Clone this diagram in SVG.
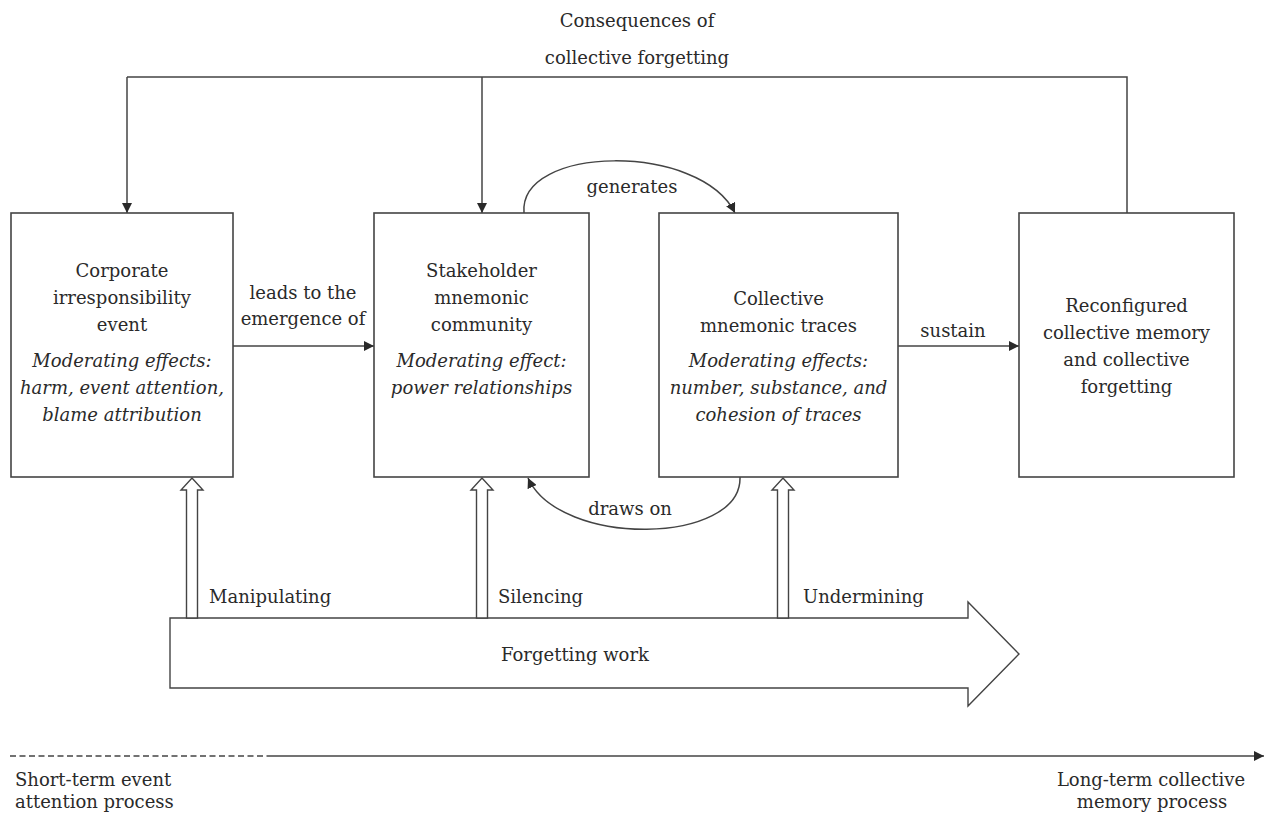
<svg xmlns="http://www.w3.org/2000/svg" width="1264" height="814" viewBox="0 0 1264 814">
<style>
  text { font-family: "DejaVu Serif", "Liberation Serif", serif; font-size: 18px; fill: #2a2a2a; }
  .c { text-anchor: middle; }
  .i { font-style: italic; }
  .box { fill: #fff; stroke: #444; stroke-width: 1.6; }
  .ln { fill: none; stroke: #444; stroke-width: 1.5; }
  .hol { fill: #fff; stroke: #444; stroke-width: 1.4; stroke-linejoin: miter; }
</style>
<defs>
  <marker id="ah" viewBox="0 0 10 10" refX="10" refY="5" markerWidth="10" markerHeight="10" markerUnits="userSpaceOnUse" orient="auto">
    <path d="M0,0 L10,5 L0,10 Z" fill="#2a2a2a"/>
  </marker>
</defs>
<rect width="1264" height="814" fill="#fff"/>

<g id="title">
  <text class="c" x="637" y="27">Consequences of</text>
  <text class="c" x="637" y="64">collective forgetting</text>
</g>

<g id="connectors">
  <path class="ln" d="M127,77 H1127 V213"/>
  <path class="ln" d="M127,77 V213" marker-end="url(#ah)"/>
  <path class="ln" d="M482,77 V213" marker-end="url(#ah)"/>
  <path class="ln" d="M233,346 H374" marker-end="url(#ah)"/>
  <path class="ln" d="M898,346 H1019" marker-end="url(#ah)"/>
  <path class="ln" d="M524,213 C518,145 700,142 735,213" marker-end="url(#ah)"/>
  <path class="ln" d="M740,477 C742,545 560,548 528,478" marker-end="url(#ah)"/>
  <path class="ln" d="M10,756 H267" stroke-dasharray="6 3.5"/>
  <path class="ln" d="M267,756 H1264" marker-end="url(#ah)"/>
</g>

<g id="labels">
  <text class="c" x="303" y="299">leads to the</text>
  <text class="c" x="303" y="325">emergence of</text>
  <text class="c" x="953" y="337">sustain</text>
  <text class="c" x="632" y="193">generates</text>
  <text class="c" x="630" y="515">draws on</text>
</g>

<g id="node-corporate">
  <rect class="box" x="11" y="213" width="222" height="264"/>
  <text class="c" x="122" y="277">Corporate</text>
  <text class="c" x="122" y="304">irresponsibility</text>
  <text class="c" x="122" y="331">event</text>
  <text class="c i" x="122" y="367">Moderating effects:</text>
  <text class="c i" x="122" y="394">harm, event attention,</text>
  <text class="c i" x="122" y="421">blame attribution</text>
</g>

<g id="node-stakeholder">
  <rect class="box" x="374" y="213" width="215" height="264"/>
  <text class="c" x="481.5" y="277">Stakeholder</text>
  <text class="c" x="481.5" y="304">mnemonic</text>
  <text class="c" x="481.5" y="331">community</text>
  <text class="c i" x="481.5" y="367">Moderating effect:</text>
  <text class="c i" x="481.5" y="394">power relationships</text>
</g>

<g id="node-traces">
  <rect class="box" x="659" y="213" width="239" height="264"/>
  <text class="c" x="778.5" y="305">Collective</text>
  <text class="c" x="778.5" y="332">mnemonic traces</text>
  <text class="c i" x="778.5" y="367">Moderating effects:</text>
  <text class="c i" x="778.5" y="394">number, substance, and</text>
  <text class="c i" x="778.5" y="421">cohesion of traces</text>
</g>

<g id="node-reconfigured">
  <rect class="box" x="1019" y="213" width="215" height="264"/>
  <text class="c" x="1126.5" y="312">Reconfigured</text>
  <text class="c" x="1126.5" y="339">collective memory</text>
  <text class="c" x="1126.5" y="366">and collective</text>
  <text class="c" x="1126.5" y="393">forgetting</text>
</g>

<g id="node-forgetting-work">
  <polygon class="hol" points="170,618 968,618 968,602 1019,654 968,706 968,688 170,688"/>
  <text class="c" x="575" y="661">Forgetting work</text>
</g>

<g id="hollow-arrows">
  <polygon class="hol" points="186.5,618 186.5,490 181,490 192,478 203,490 197.5,490 197.5,618"/>
  <polygon class="hol" points="476.5,618 476.5,490 471,490 482,478 493,490 487.5,490 487.5,618"/>
  <polygon class="hol" points="777.5,618 777.5,490 772,490 783,478 794,490 788.5,490 788.5,618"/>
  <text x="209" y="603">Manipulating</text>
  <text x="498" y="603">Silencing</text>
  <text x="803" y="603">Undermining</text>
</g>

<g id="timeline-labels">
  <text x="15" y="786">Short-term event</text>
  <text x="15" y="808">attention process</text>
  <text class="c" x="1151" y="786">Long-term collective</text>
  <text class="c" x="1152" y="808">memory process</text>
</g>
</svg>
